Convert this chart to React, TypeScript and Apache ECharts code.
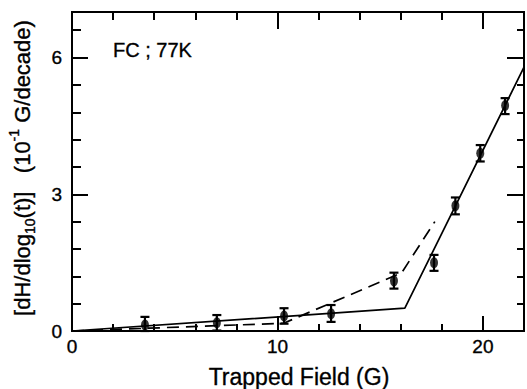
import React, { useEffect, useRef } from 'react';
import * as echarts from 'echarts';

// Data
const fieldG = [3.55, 7.05, 10.32, 12.61, 15.67, 17.62, 18.66, 19.87, 21.08];
const rate = [0.13, 0.18, 0.33, 0.38, 1.1, 1.5, 2.75, 3.9, 4.95];
const errLow = [0.0, 0.01, 0.16, 0.2, 0.93, 1.32, 2.56, 3.72, 4.76];
const errHigh = [0.31, 0.35, 0.5, 0.57, 1.28, 1.67, 2.93, 4.08, 5.11];
const solidFitX = [0, 16.2, 22];
const solidFitY = [0, 0.5, 5.79];
const dashedFitX = [0, 10.3, 16.05, 17.66];
const dashedFitY = [0, 0.17, 1.28, 2.4];
const xMajorTicks = [0, 10, 20];
const yMajorTicks = [0, 3, 6];

const FONT = '"Liberation Sans", Arial, Helvetica, sans-serif';
const BOLDEN = 0.35;

export default function App() {
  const ref = useRef<HTMLDivElement>(null);
  useEffect(() => {
    if (!ref.current) return;
    const chart = echarts.init(ref.current, null, { renderer: 'svg' });
    const axLine = { show: true, onZero: false, lineStyle: { color: '#000', width: 2 } };
    const tick = (len: number) => ({ show: true, inside: true, length: len, lineStyle: { color: '#000', width: 2 } });
    const noLabel = { show: false };
    const isIn = (arr: number[], v: number) => arr.some((a) => Math.abs(a - v) < 1e-6);
    const xBase = { type: 'value', min: 0, max: 22, splitLine: { show: false }, axisLine: axLine };
    const yBase = { type: 'value', min: 0, max: 7, splitLine: { show: false }, axisLine: axLine };
    const labelStyle = {
      show: true,
      color: '#000',
      fontSize: 19,
      fontFamily: FONT,
      textBorderColor: '#000',
      textBorderWidth: BOLDEN,
    };

    chart.setOption({
      animation: false,
      backgroundColor: '#fff',
      grid: { left: 72, right: 2, top: 12, bottom: 58, containLabel: false },
      xAxis: [
        { ...xBase, position: 'bottom', interval: 2, axisTick: tick(7), axisLabel: noLabel },
        {
          ...xBase,
          position: 'bottom',
          interval: 10,
          axisTick: tick(15),
          axisLabel: {
            ...labelStyle,
            margin: 6,
            formatter: (v: number) => (isIn(xMajorTicks, v) ? String(v) : ''),
          },
        },
        { ...xBase, position: 'top', interval: 2, axisTick: tick(8), axisLabel: noLabel },
        { ...xBase, position: 'top', interval: 10, axisTick: tick(17), axisLabel: noLabel },
      ],
      yAxis: [
        { ...yBase, position: 'left', interval: 0.6, axisTick: tick(9), axisLabel: noLabel },
        {
          ...yBase,
          position: 'left',
          interval: 3,
          axisTick: tick(16),
          axisLabel: {
            ...labelStyle,
            margin: 10,
            formatter: (v: number) => (isIn(yMajorTicks, v) ? String(Math.round(v)) : ''),
          },
        },
        { ...yBase, position: 'right', interval: 0.6, axisTick: tick(7), axisLabel: noLabel },
        { ...yBase, position: 'right', interval: 3, axisTick: tick(17), axisLabel: noLabel },
      ],
      series: [
        {
          type: 'line',
          xAxisIndex: 0,
          yAxisIndex: 0,
          data: solidFitX.map((x, i) => [x, solidFitY[i]]),
          showSymbol: false,
          lineStyle: { color: '#000', width: 1.7 },
          z: 3,
        },
        {
          type: 'line',
          xAxisIndex: 0,
          yAxisIndex: 0,
          data: dashedFitX.map((x, i) => [x, dashedFitY[i]]),
          showSymbol: false,
          lineStyle: { color: '#000', width: 1.7, type: [12, 7] },
          z: 3,
        },
        {
          type: 'custom',
          xAxisIndex: 0,
          yAxisIndex: 0,
          data: fieldG.map((x, i) => [x, errLow[i], errHigh[i]]),
          encode: { x: 0, y: [1, 2] },
          renderItem: (params: any, api: any) => {
            const x = api.value(0);
            const lo = api.coord([x, api.value(1)]);
            const hi = api.coord([x, api.value(2)]);
            const hw = 4.5;
            const st = { stroke: '#000', lineWidth: 2.2 };
            return {
              type: 'group',
              children: [
                { type: 'line', shape: { x1: lo[0], y1: lo[1], x2: hi[0], y2: hi[1] }, style: st },
                { type: 'line', shape: { x1: hi[0] - hw, y1: hi[1], x2: hi[0] + hw, y2: hi[1] }, style: st },
                { type: 'line', shape: { x1: lo[0] - hw, y1: lo[1], x2: lo[0] + hw, y2: lo[1] }, style: st },
              ],
            };
          },
          z: 4,
        },
        {
          type: 'scatter',
          xAxisIndex: 0,
          yAxisIndex: 0,
          data: fieldG.map((x, i) => [x, rate[i]]),
          symbol: 'circle',
          symbolSize: [8, 11],
          itemStyle: { color: '#000' },
          z: 5,
        },
      ],
      graphic: [
        {
          type: 'text',
          x: 113,
          y: 50,
          style: {
            text: 'FC ; 77K',
            font: `20px ${FONT}`,
            fill: '#000',
            stroke: '#000',
            lineWidth: BOLDEN,
            verticalAlign: 'middle',
          },
        },
        {
          type: 'text',
          x: 299,
          y: 377,
          style: {
            text: 'Trapped Field (G)',
            font: `23px ${FONT}`,
            fill: '#000',
            stroke: '#000',
            lineWidth: BOLDEN,
            align: 'center',
            verticalAlign: 'middle',
          },
        },
        {
          type: 'text',
          x: 22,
          y: 168,
          rotation: Math.PI / 2,
          style: {
            text: '{a|[dH/dlog}{b|10}{a|(t)]   (10}{c|-1}{a| G/decade)}',
            align: 'center',
            verticalAlign: 'middle',
            rich: {
              a: { fontSize: 22, fontFamily: FONT, fill: '#000', stroke: '#000', lineWidth: BOLDEN, lineHeight: 30, verticalAlign: 'middle' },
              b: { fontSize: 14, fontFamily: FONT, fill: '#000', stroke: '#000', lineWidth: BOLDEN, lineHeight: 30, verticalAlign: 'bottom' },
              c: { fontSize: 14, fontFamily: FONT, fill: '#000', stroke: '#000', lineWidth: BOLDEN, lineHeight: 30, verticalAlign: 'top' },
            },
          },
        },
      ],
    });
    return () => chart.dispose();
  }, []);
  return <div ref={ref} style={{ position: 'absolute', left: 0, top: 0, width: 527, height: 389 }} />;
}
